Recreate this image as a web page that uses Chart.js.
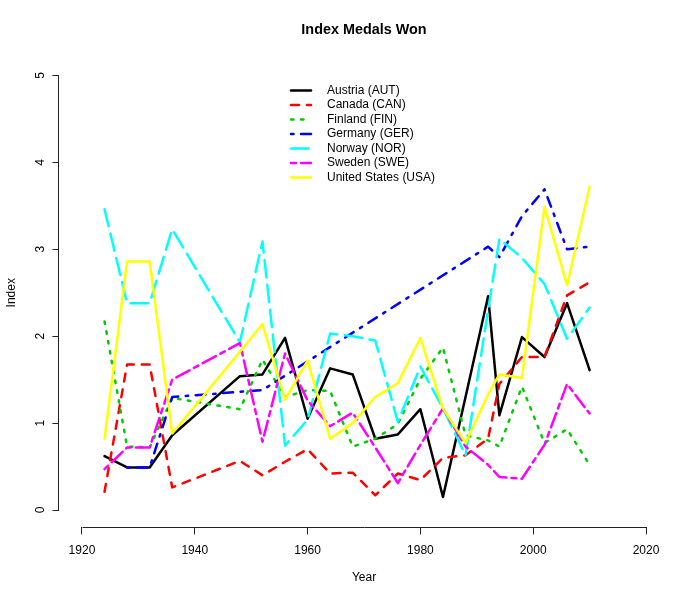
<!DOCTYPE html>
<html><head><meta charset="utf-8">
<script src="https://cdn.jsdelivr.net/npm/chart.js@4/dist/chart.umd.min.js"></script>
<style>html,body{margin:0;padding:0;background:#fff}</style>
</head><body>
<canvas id="c" width="700" height="600" style="display:block;width:700px;height:600px"></canvas>
<script>
// ---------- data ----------
const years = [1924,1928,1932,1936,1948,1952,1956,1960,1964,1968,1972,1976,1980,1984,1988,1992,1994,1998,2002,2006,2010];
const countryNames = ['Austria (AUT)','Canada (CAN)','Finland (FIN)','Germany (GER)','Norway (NOR)','Sweden (SWE)','United States (USA)'];
const austria = [0.62,0.49,0.49,0.86,1.54,1.56,1.98,1.05,1.63,1.56,0.82,0.87,1.16,0.15,1.30,2.46,1.09,1.99,1.76,2.38,1.61];
const canada  = [0.21,1.675,1.675,0.26,0.565,0.40,0.555,0.70,0.42,0.43,0.17,0.42,0.345,0.60,0.63,0.82,1.45,1.76,1.76,2.47,2.62];
const finland = [2.17,0.73,0.72,1.29,1.16,1.73,1.30,1.38,1.37,0.73,0.82,0.99,1.51,1.87,0.86,0.80,0.73,1.42,0.77,0.93,0.52];
const germany = [null,0.49,0.49,1.30,null,1.38,null,null,null,null,null,null,null,null,null,3.03,2.91,3.38,3.69,3.00,3.03];
const norway  = [3.46,2.38,2.38,3.23,1.93,3.09,0.74,1.04,2.03,2.00,1.95,1.015,1.65,1.17,0.63,2.30,3.12,2.90,2.60,1.97,2.33];
const sweden  = [0.47,0.72,0.72,1.50,1.92,0.785,1.80,1.26,0.965,1.12,0.72,0.31,0.75,1.17,0.73,0.52,0.38,0.36,0.75,1.45,1.11];
const usa     = [0.82,2.86,2.86,0.88,1.82,2.14,1.27,1.72,0.82,1.00,1.30,1.46,1.98,1.17,0.77,1.33,1.56,1.52,3.49,2.59,3.72];
const xTicks = [1920,1940,1960,1980,2000,2020];
const yTicks = [0,1,2,3,4,5];

// ---------- styles ----------
const series = [austria, canada, finland, germany, norway, sweden, usa];
const colors = ['#000000','#FF0000','#00CD00','#0000FF','#00FFFF','#FF00FF','#FFFF00'];
const LW = 2.5;
const dashes = [[], [8,8], [2.5,7.5], [2.5,7.5,10,7.5], [17.5,7.5], [5,5,15,5], []];
const FONT = '"Liberation Sans", Arial, Helvetica, sans-serif';
Chart.defaults.font.family = FONT;
Chart.defaults.color = '#000';

const datasets = series.map((d, i) => ({
  label: countryNames[i],
  data: d,
  borderColor: colors[i],
  backgroundColor: colors[i],
  borderWidth: LW,
  borderDash: dashes[i],
  borderCapStyle: 'round',
  borderJoinStyle: 'round',
  pointRadius: 0,
  pointHoverRadius: 0,
  fill: false,
  tension: 0,
  spanGaps: true,
  order: series.length - i
}));

const LEG = {x1: 291, x2: 311, tx: 327, top: 90.5, row: 14.5};
const legendPlugin = {
  id: 'rlegend',
  afterDatasetsDraw(chart) {
    const ctx = chart.ctx;
    ctx.save();
    chart.data.datasets.forEach((ds, i) => {
      const y = LEG.top + i * LEG.row;
      ctx.beginPath();
      ctx.strokeStyle = ds.borderColor;
      ctx.lineWidth = ds.borderWidth;
      ctx.lineCap = 'round';
      ctx.setLineDash(ds.borderDash);
      ctx.moveTo(LEG.x1, y);
      ctx.lineTo(LEG.x2, y);
      ctx.stroke();
      ctx.setLineDash([]);
      ctx.fillStyle = '#000';
      ctx.font = '12px ' + FONT;
      ctx.textBaseline = 'middle';
      ctx.textAlign = 'left';
      ctx.fillText(ds.label, LEG.tx, y);
    });
    ctx.restore();
  }
};

const axisLinePlugin = {
  id: 'raxis',
  afterDraw(chart) {
    const {ctx, chartArea, scales} = chart;
    const xs = scales.x, ys = scales.y;
    const yb = Math.round(chartArea.bottom) + 0.5;
    const xl = Math.round(chartArea.left) - 0.5;
    ctx.save();
    ctx.strokeStyle = '#222';
    ctx.lineWidth = 1;
    ctx.beginPath();
    ctx.moveTo(Math.round(xs.getPixelForValue(xTicks[0])) + 0.5, yb);
    ctx.lineTo(Math.round(xs.getPixelForValue(xTicks[xTicks.length - 1])) + 0.5, yb);
    ctx.moveTo(xl, Math.round(ys.getPixelForValue(yTicks[0])) + 0.5);
    ctx.lineTo(xl, Math.round(ys.getPixelForValue(yTicks[yTicks.length - 1])) + 0.5);
    ctx.stroke();
    ctx.restore();
  }
};

new Chart(document.getElementById('c'), {
  type: 'line',
  data: {labels: years, datasets},
  options: {
    responsive: false,
    animation: false,
    devicePixelRatio: 1,
    layout: {padding: {left: 0, right: 31.4, top: 0, bottom: 0}},
    plugins: {
      legend: {display: false},
      tooltip: {enabled: false},
      title: {
        display: true, text: 'Index Medals Won', fullSize: false, color: '#000',
        font: {size: 14.4, weight: 'bold'},
        padding: {top: 21.6, bottom: 19.2}
      }
    },
    scales: {
      x: {
        type: 'linear', min: 1916, max: 2024,
        afterBuildTicks: s => { s.ticks = xTicks.map(v => ({value: v})); },
        afterFit: s => { s.height = 72.6; },
        ticks: {autoSkip: false, maxRotation: 0, minRotation: 0, padding: 9.4, color: '#000', font: {size: 12}, callback: v => String(v)},
        grid: {display: true, drawOnChartArea: false, drawTicks: true, tickLength: 7, color: '#222'},
        border: {display: false},
        title: {display: true, text: 'Year', color: '#000', font: {size: 12}, padding: {top: 0, bottom: 14.8}}
      },
      y: {
        type: 'linear', min: -0.2, max: 5.2,
        afterBuildTicks: s => { s.ticks = yTicks.map(v => ({value: v})); },
        afterFit: s => { s.width = 59.4; },
        ticks: {autoSkip: false, minRotation: 90, maxRotation: 90, crossAlign: 'center', padding: 8, color: '#000', font: {size: 12}, callback: v => String(v)},
        grid: {display: true, drawOnChartArea: false, drawTicks: true, tickLength: 7, color: '#222'},
        border: {display: false},
        title: {display: true, text: 'Index', color: '#000', font: {size: 12}, padding: {top: 4.8, bottom: 0}}
      }
    }
  },
  plugins: [legendPlugin, axisLinePlugin]
});
</script>
</body></html>
